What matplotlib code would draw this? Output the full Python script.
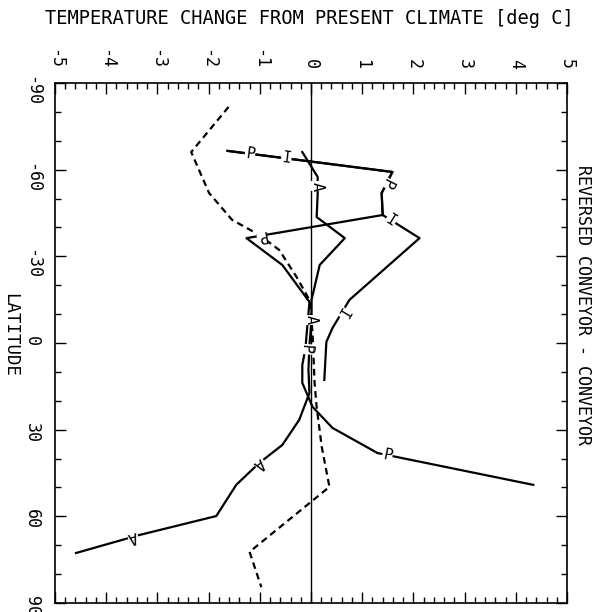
import numpy as np
import matplotlib.pyplot as plt
from matplotlib.ticker import MultipleLocator

plt.rcParams['font.family'] = ['DejaVu Sans Mono']

# dashed curve (zonal mean)
lat_mean = [-81.7, -66.1, -51.9, -42.6, -37.4, -32.2, -22.8, -14.9, -3.5,
            13.8, 22.1, 36.0, 49.8, 72.3, 84.5]
dt_mean = [-1.61, -2.34, -1.99, -1.54, -1.01, -0.62, -0.28, -0.03, 0.03,
           0.07, 0.11, 0.21, 0.36, -1.20, -0.97]

# Atlantic
lat_a = [-66.1, -57.5, -51.2, -43.6, -36.3, -27.0, -14.9, -8.0, 0.7, 9.3,
         17.3, 26.6, 35.3, 41.5, 49.1, 59.9, 66.5, 72.7]
dt_a = [-0.17, 0.13, 0.13, 0.11, 0.66, 0.17, 0.01, 0.01, -0.03, -0.05,
        -0.03, -0.23, -0.56, -1.01, -1.46, -1.85, -3.36, -4.59]

# Pacific
lat_p = [-66.5, -59.2, -51.9, -44.3, -36.3, -27.0, -14.2, -6.2, 2.1, 7.6,
         13.8, 22.1, 29.4, 38.1, 49.1]
dt_p = [-1.63, 1.59, 1.38, 1.40, -1.26, -0.56, -0.03, -0.07, -0.11, -0.17,
        -0.17, 0.03, 0.42, 1.30, 4.34]

# Indian
lat_i = [-66.5, -59.2, -51.9, -44.3, -36.3, -14.9, -5.2, -0.35, 12.8]
dt_i = [-1.63, 1.59, 1.38, 1.40, 2.12, 0.75, 0.42, 0.30, 0.26]

# where the curve letters sit (latitude)
lab_p = [-65.5, -55.4, -37.2, 2.1, 38.8]
lab_i = [-63.9, -42.5, -10.7]
lab_a = [-54.3, -8.0, 41.5, 67.1]

xticks = [-5, -4, -3, -2, -1, 0, 1, 2, 3, 4, 5]
yticks = [-90, -60, -30, 0, 30, 60, 90]


def put_labels(ax, lats, temps, letter, where):
    lats = np.array(lats)
    temps = np.array(temps)
    for la in where:
        t = np.interp(la, lats, temps)
        i = np.searchsorted(lats, la)
        p0 = ax.transData.transform((temps[i - 1], lats[i - 1]))
        p1 = ax.transData.transform((temps[i], lats[i]))
        ang = np.degrees(np.arctan2(p1[1] - p0[1], p1[0] - p0[0]))
        ax.text(t, la, letter, rotation=ang, rotation_mode='anchor',
                ha='center', va='center', fontsize=11, zorder=5,
                bbox=dict(fc='white', ec='none', pad=0.4))


fig = plt.figure(figsize=(6.07, 6.12), dpi=100)
ax = fig.add_axes([0.0906, 0.0147, 0.8435, 0.8497])
ax.set_xlim(-5, 5)
ax.set_ylim(90, -90)

ax.axvline(0, color='black', lw=1.0)
ax.plot(dt_mean, lat_mean, color='black', lw=1.6, ls=(0, (3, 2)))
ax.plot(dt_a, lat_a, color='black', lw=1.6)
ax.plot(dt_p, lat_p, color='black', lw=1.6)
ax.plot(dt_i, lat_i, color='black', lw=1.6)

put_labels(ax, lat_p, dt_p, 'P', lab_p)
put_labels(ax, lat_i, dt_i, 'I', lab_i)
put_labels(ax, lat_a, dt_a, 'A', lab_a)

ax.xaxis.tick_top()
ax.set_xticks(xticks)
ax.set_xticklabels([str(v) for v in xticks])
ax.set_yticks(yticks)
ax.set_yticklabels([str(v) for v in yticks])
ax.xaxis.set_minor_locator(MultipleLocator(0.2))
ax.yaxis.set_minor_locator(MultipleLocator(10))
ax.tick_params(which='both', direction='in', top=True, bottom=True,
               left=True, right=True, width=1.0)
ax.tick_params(which='major', length=8)
ax.tick_params(which='minor', length=4)
ax.tick_params(axis='x', labelrotation=-90, labelsize=12, pad=10)
ax.tick_params(axis='y', labelrotation=-90, labelsize=12, pad=10)
for s in ax.spines.values():
    s.set_linewidth(1.2)

fig.text(0.509, 0.97, 'TEMPERATURE CHANGE FROM PRESENT CLIMATE [deg C]',
         ha='center', va='center', fontsize=13.5)
fig.text(0.0165, 0.453, 'LATITUDE', rotation=-90, ha='center', va='center',
         fontsize=12.5)
fig.text(0.96, 0.502, 'REVERSED CONVEYOR - CONVEYOR', rotation=-90,
         ha='center', va='center', fontsize=12)

fig.savefig('out.png', dpi=100)
